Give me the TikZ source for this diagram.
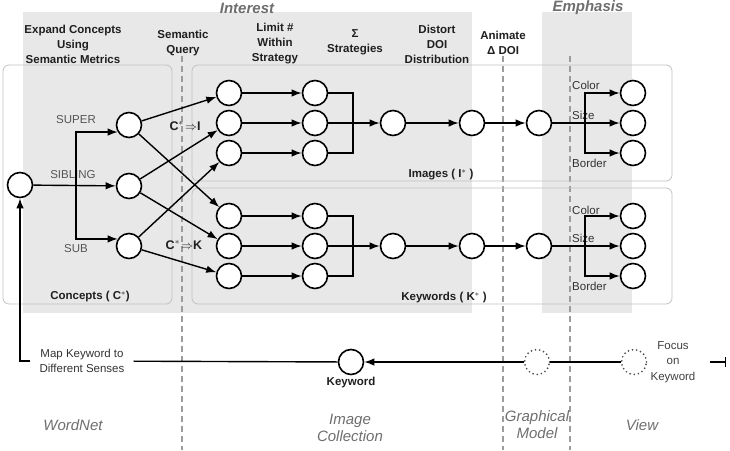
\documentclass[tikz,border=0pt]{standalone}
\usepackage{fontspec}
\setmainfont{Liberation Sans}
\usepackage{tikz}
\usetikzlibrary{arrows.meta, positioning, calc}

\definecolor{bandgray}{HTML}{E8E8E8}
\definecolor{boxgray}{HTML}{C2C2C2}
\definecolor{dashgray}{HTML}{9C9C9C}
\definecolor{labelgray}{HTML}{555555}
\definecolor{tiergray}{HTML}{6E6E6E}

\begin{document}
\begin{tikzpicture}[x=1pt, y=-1pt, node distance=30pt, auto,
        vertex/.style={circle, draw, line width=1.6pt, fill=white, minimum size=25pt, inner sep=0pt},
        ghost/.style={circle, draw=black!70, line width=1.9pt, dash pattern=on 0pt off 4.2pt, line cap=round, minimum size=25pt, inner sep=0pt},
        head/.style={font=\fontsize{11.5}{15}\selectfont\bfseries, align=center, text=black!88, inner sep=0pt},
        tag/.style={font=\fontsize{11.5}{15.5}\selectfont, text=labelgray, inner sep=1pt},
        group/.style={rectangle, draw=boxgray, line width=0.8pt, rounded corners=6pt},
        tier/.style={font=\fontsize{15}{17}\selectfont\itshape, align=center, text=tiergray},
        band/.style={fill=bandgray, draw=none},
        divider/.style={draw=dashgray, line width=1.2pt, dash pattern=on 6pt off 4pt},
        line/.style={draw, line width=1.4pt, -{Latex[length=10pt, width=7.5pt]}},
        wire/.style={draw, line width=1.4pt}]

    \useasboundingbox (0,0) rectangle (730,450);

    % Shaded stages
    \fill [band] (23,12) rectangle (472,313);
    \fill [band] (542,12) rectangle (632,313);
    \node [tier, font=\fontsize{15}{17}\selectfont\bfseries\itshape] (interest) at (247,8) {Interest};
    \node [tier, font=\fontsize{15}{17}\selectfont\bfseries\itshape] (emphasis) at (588,8) {Emphasis};

    % Stage dividers
    \draw [divider] (182,56) -- (182,450);
    \draw [divider] (503,56) -- (503,450);
    \draw [divider] (570,56) -- (570,450);

    % Groups
    \draw [group] (3,65) rectangle (172,304);
    \draw [group] (192,65) rectangle (672,181);
    \draw [group] (192,188) rectangle (672,304);
    \node [head] (concepts) at (90,297) {Concepts ( C$^{*}$)};
    \node [head] (images) at (441,175) {Images ( I$^{*}$ )};
    \node [head] (keywords) at (444,298) {Keywords ( K$^{*}$ )};

    % Step headings
    \node [head] (expand) at (73,44) {Expand Concepts\\Using\\Semantic Metrics};
    \node [head] (query) at (183,43) {Semantic\\Query};
    \node [head] (limit) at (275,44) {Limit \#\\Within\\Strategy};
    \node [head] (sigma) at (355,42) {Σ\\Strategies};
    \node [head] (distort) at (437,44) {Distort\\DOI\\Distribution};
    \node [head] (animate) at (503,43) {Animate\\Δ DOI};

    % Concepts
    \node [vertex] (source) at (20,185) {};
    \node [vertex] (super) at (129,125) {};
    \node [vertex, below of=super, node distance=61pt] (sibling) {};
    \node [vertex, below of=sibling, node distance=60pt] (sub) {};
    \node [tag] (superlabel) at (76,120) {SUPER};
    \node [tag] (siblinglabel) at (73,175) {SIBLING};
    \node [tag] (sublabel) at (76,249) {SUB};

    % Images
    \node [vertex] (ia1) at (229,93) {};
    \node [vertex, below of=ia1] (ia2) {};
    \node [vertex, below of=ia2] (ia3) {};
    \node [vertex, right of=ia1, node distance=86pt] (ib1) {};
    \node [vertex, right of=ia2, node distance=86pt] (ib2) {};
    \node [vertex, right of=ia3, node distance=86pt] (ib3) {};
    \node [vertex] (isum) at (393,123) {};
    \node [vertex, right of=isum, node distance=79pt] (idoi) {};
    \node [vertex, right of=idoi, node distance=67pt] (ianim) {};
    \node [vertex] (icolor) at (633,93) {};
    \node [vertex, below of=icolor] (isize) {};
    \node [vertex, below of=isize] (iborder) {};

    % Keywords
    \node [vertex] (ka1) at (229,216) {};
    \node [vertex, below of=ka1] (ka2) {};
    \node [vertex, below of=ka2] (ka3) {};
    \node [vertex, right of=ka1, node distance=86pt] (kb1) {};
    \node [vertex, right of=ka2, node distance=86pt] (kb2) {};
    \node [vertex, right of=ka3, node distance=86pt] (kb3) {};
    \node [vertex] (ksum) at (393,246) {};
    \node [vertex, right of=ksum, node distance=79pt] (kdoi) {};
    \node [vertex, right of=kdoi, node distance=67pt] (kanim) {};
    \node [vertex] (kcolor) at (633,216) {};
    \node [vertex, below of=kcolor] (ksize) {};
    \node [vertex, below of=ksize] (kborder) {};

    % Emphasis labels
    \node [tag, text=black!80, anchor=west] (icolorlabel) at (571,85) {Color};
    \node [tag, text=black!80, anchor=west] (isizelabel) at (571,115) {Size};
    \node [tag, text=black!80, anchor=west] (iborderlabel) at (571,163) {Border};
    \node [tag, text=black!80, anchor=west] (kcolorlabel) at (571,210) {Color};
    \node [tag, text=black!80, anchor=west] (ksizelabel) at (571,238) {Size};
    \node [tag, text=black!80, anchor=west] (kborderlabel) at (571,286) {Border};

    % Query labels
    \node [head, font=\fontsize{12.5}{15}\selectfont\bfseries] (toimages) at (185,126) {C$^{*}\!\Rightarrow$I};
    \node [head, font=\fontsize{12.5}{15}\selectfont\bfseries] (tokeywords) at (184,245) {C$^{*}\!\Rightarrow$K};

    % Concept expansion
    \coordinate (fork) at (76,185);
    \path [line] (source) -- (sibling);
    \path [line] (fork) |- (super.212);
    \path [line] (fork) |- (sub.148);

    % Semantic query
    \path [line] (super) -- (ia1);
    \path [line] (super) -- (ka1);
    \path [line] (sibling) -- (ia2);
    \path [line] (sibling) -- (ka2);
    \path [line] (sub) -- (ia3);
    \path [line] (sub) -- (ka3);

    % Image chain
    \coordinate (ijoin) at (353,123);
    \path [line] (ia1) -- (ib1);
    \path [line] (ia2) -- (ib2);
    \path [line] (ia3) -- (ib3);
    \path [wire] (ib1) -| (ijoin) |- (ib3);
    \path [line] (ib2) -- (isum);
    \path [line] (isum) -- (idoi);
    \path [line] (idoi) -- (ianim);
    \coordinate (isplit) at (585,123);
    \path [line] (ianim) -- (isize);
    \path [line] (isplit) |- (icolor);
    \path [line] (isplit) |- (iborder);

    % Keyword chain
    \coordinate (kjoin) at (353,246);
    \path [line] (ka1) -- (kb1);
    \path [line] (ka2) -- (kb2);
    \path [line] (ka3) -- (kb3);
    \path [wire] (kb1) -| (kjoin) |- (kb3);
    \path [line] (kb2) -- (ksum);
    \path [line] (ksum) -- (kdoi);
    \path [line] (kdoi) -- (kanim);
    \coordinate (ksplit) at (585,246);
    \path [line] (kanim) -- (ksize);
    \path [line] (ksplit) |- (kcolor);
    \path [line] (ksplit) |- (kborder);

    % Focus feedback
    \node [vertex] (keyword) at (351,362) {};
    \node [head, below of=keyword, node distance=21pt] (keywordlabel) {Keyword};
    \node [ghost] (gmodel) at (537,362) {};
    \node [ghost] (gview) at (634,362) {};
    \node [tag, align=center, text=black!75] (focus) at (673,362) {Focus\\on\\Keyword};
    \node [tag, align=center, text=black!80, inner xsep=9pt] (map) at (82,361) {Map Keyword to\\Different Senses};
    \coordinate (stopa) at (710,362);
    \coordinate (stopb) at (726,362);
    \path [wire] (gview) -- (gmodel);
    \path [line] (gmodel) -- (keyword);
    \path [wire] (keyword) -- (map);
    \path [line] (map.west) -| (source);
    \path [wire, -{Bar[width=10pt]}] (stopa) -- (stopb);

    % Tiers
    \node [tier] (wordnet) at (73,425) {WordNet};
    \node [tier] (collection) at (350,428) {Image\\Collection};
    \node [tier] (graphical) at (537,425) {Graphical\\Model};
    \node [tier] (view) at (642,425) {View};

\end{tikzpicture}
\end{document}
